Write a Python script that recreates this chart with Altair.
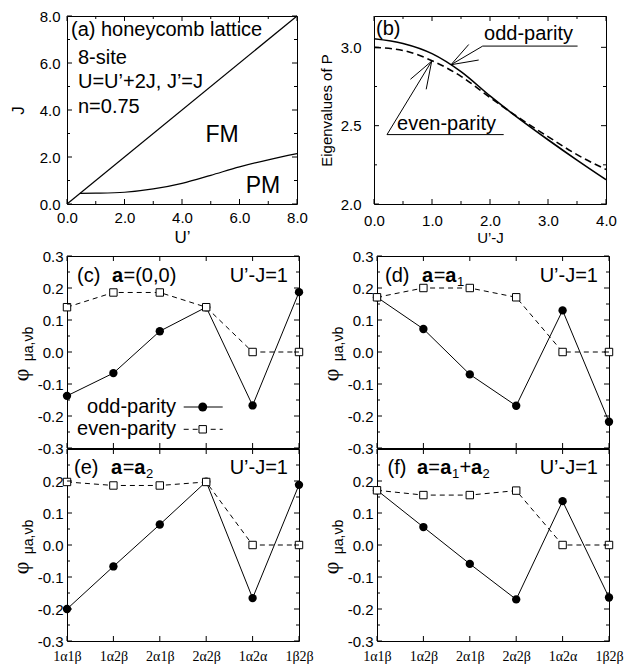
import altair as alt
import pandas as pd

SANS = "Liberation Sans"
SERIF = "Liberation Serif"

# ---------------- data ----------------
# (a) phase diagram
diag_u = [0.0, 8.0]
diag_j = [0.0, 8.0]
pm_u = [0.45, 1.0, 2.0, 3.0, 4.0, 5.0, 6.0, 7.0, 8.0]
pm_j = [0.45, 0.46, 0.50, 0.64, 0.88, 1.22, 1.58, 1.88, 2.14]

# (b) eigenvalues of P
b_x = [0.0, 0.5, 1.0, 1.5, 2.0, 2.5, 3.0, 3.5, 4.0]
odd_p = [3.055, 3.025, 2.96, 2.845, 2.69, 2.545, 2.41, 2.28, 2.155]
even_p = [3.0, 2.98, 2.915, 2.815, 2.68, 2.55, 2.43, 2.315, 2.22]

# (c)-(f) pair amplitudes
cats = ["1α1β", "1α2β", "2α1β", "2α2β", "1α2α", "1β2β"]
c_odd = [-0.137, -0.066, 0.065, 0.14, -0.167, 0.187]
c_even = [0.14, 0.186, 0.186, 0.14, 0.0, 0.0]
d_odd = [0.171, 0.072, -0.07, -0.168, 0.13, -0.218]
d_even = [0.171, 0.2, 0.2, 0.171, 0.0, 0.0]
e_odd = [-0.2, -0.067, 0.064, 0.198, -0.166, 0.188]
e_even = [0.197, 0.186, 0.186, 0.197, 0.0, 0.0]
f_odd = [0.171, 0.056, -0.059, -0.17, 0.137, -0.164]
f_even = [0.171, 0.156, 0.156, 0.17, 0.0, 0.0]

# tick values
a_major = [0, 2, 4, 6, 8]
a_minor = [1, 3, 5, 7]
b_xmajor = [0, 1, 2, 3, 4]
b_xminor = [0.5, 1.5, 2.5, 3.5]
b_ymajor = [2.0, 2.5, 3.0]
b_yminor = [2.25, 2.75]
phi_major = [-0.3, -0.2, -0.1, 0.0, 0.1, 0.2, 0.3]
phi_minor = [-0.25, -0.15, -0.05, 0.05, 0.15, 0.25]

# (b) annotation arrows (data coordinates)
seg_x = [1.874, 1.874, 1.328, 1.328, 0.224, 0.224, 0.995, 0.995]
seg_y = [3.008, 3.008, 2.889, 2.889, 2.443, 2.443, 2.912, 2.912]
seg_x2 = [3.51, 1.328, 1.633, 1.805, 2.236, 0.995, 0.628, 0.9]
seg_y2 = [3.008, 2.889, 3.018, 2.919, 2.443, 2.912, 2.796, 2.732]


# ---------------- helpers ----------------
def txt(s, x, y, size=20, align="left", baseline="alphabetic", weight="normal",
        angle=0, font=SANS):
    return alt.Chart(alt.Data(values=[{}])).mark_text(
        text=s, align=align, baseline=baseline, fontSize=size, fontWeight=weight,
        font=font, angle=angle, color="black"
    ).encode(x=alt.value(x), y=alt.value(y))


def xticks(vals, length, H, scale, axis, t="Q"):
    df = pd.DataFrame({"v": vals})
    base = alt.Chart(df).mark_rule(color="black", strokeWidth=1)
    xe = alt.X(f"v:{t}", scale=scale, axis=axis)
    return [base.encode(x=xe, y=alt.value(H), y2=alt.value(H - length)),
            base.encode(x=xe, y=alt.value(0), y2=alt.value(length))]


def yticks(vals, length, W, scale, axis):
    df = pd.DataFrame({"v": vals})
    base = alt.Chart(df).mark_rule(color="black", strokeWidth=1)
    ye = alt.Y("v:Q", scale=scale, axis=axis)
    return [base.encode(y=ye, x=alt.value(0), x2=alt.value(length)),
            base.encode(y=ye, x=alt.value(W), x2=alt.value(W - length))]


# ---------------- panel (a) ----------------
WA, HA = 230, 188
xs_a = alt.Scale(domain=[0, 8], nice=False, zero=False)
ys_a = alt.Scale(domain=[0, 8], nice=False, zero=False)
ax_a = alt.Axis(values=a_major, format=".1f", title="U’", labelPadding=6,
                titleFontSize=17, titlePadding=4)
ay_a = alt.Axis(values=a_major, format=".1f", title="J", labelPadding=7,
                titleFontSize=17, titlePadding=12)
df_diag = pd.DataFrame({"u": diag_u, "j": diag_j})
df_pm = pd.DataFrame({"u": pm_u, "j": pm_j})

a_diag = alt.Chart(df_diag).mark_line(color="black", strokeWidth=1.2).encode(
    x=alt.X("u:Q", scale=xs_a, axis=ax_a), y=alt.Y("j:Q", scale=ys_a, axis=ay_a))
a_pm = alt.Chart(df_pm).mark_line(color="black", strokeWidth=1.2, interpolate="monotone").encode(
    x=alt.X("u:Q", scale=xs_a, axis=ax_a), y=alt.Y("j:Q", scale=ys_a, axis=ay_a))

pa_layers = [a_diag, a_pm]
pa_layers += xticks(a_major, 5, HA, xs_a, ax_a) + xticks(a_minor, 3, HA, xs_a, ax_a)
pa_layers += yticks(a_major, 5, WA, ys_a, ay_a) + yticks(a_minor, 3, WA, ys_a, ay_a)
pa_layers += [
    txt("(a) honeycomb lattice", 4, 19.5),
    txt("8-site", 11, 47.5),
    txt("U=U’+2J, J’=J", 11, 72),
    txt("n=0.75", 11, 97),
    txt("FM", 155, 125.5, size=23, align="center"),
    txt("PM", 196, 177, size=23, align="center"),
]
pa = alt.layer(*pa_layers).properties(width=WA, height=HA)

# ---------------- panel (b) ----------------
WB, HB = 232, 188
xs_b = alt.Scale(domain=[0, 4], nice=False, zero=False)
ys_b = alt.Scale(domain=[2.0, 3.2], nice=False, zero=False)
ax_b = alt.Axis(values=b_xmajor, format=".1f", title="U’-J", labelPadding=9,
                titleFontSize=15, titlePadding=2)
ay_b = alt.Axis(values=b_ymajor, format=".1f", title="Eigenvalues of P", labelPadding=13,
                titleFontSize=15, titlePadding=6)
df_b = pd.DataFrame({"x": b_x, "odd": odd_p, "even": even_p})
df_seg = pd.DataFrame({"x": seg_x, "y": seg_y, "x2": seg_x2, "y2": seg_y2})

b_odd = alt.Chart(df_b).mark_line(color="black", strokeWidth=1.6, interpolate="monotone").encode(
    x=alt.X("x:Q", scale=xs_b, axis=ax_b), y=alt.Y("odd:Q", scale=ys_b, axis=ay_b))
b_even = alt.Chart(df_b).mark_line(color="black", strokeWidth=1.6, strokeDash=[7, 4],
                                   interpolate="monotone").encode(
    x=alt.X("x:Q", scale=xs_b, axis=ax_b), y=alt.Y("even:Q", scale=ys_b, axis=ay_b))
b_seg = alt.Chart(df_seg).mark_rule(color="black", strokeWidth=1).encode(
    x=alt.X("x:Q", scale=xs_b, axis=ax_b), y=alt.Y("y:Q", scale=ys_b, axis=ay_b),
    x2="x2:Q", y2="y2:Q")
b_lab = pd.DataFrame({"x": [1.897, 0.397], "y": [3.05, 2.474], "t": ["odd-parity", "even-parity"]})
b_txt = alt.Chart(b_lab).mark_text(align="left", baseline="alphabetic", fontSize=20, font=SANS,
                                   color="black").encode(
    x=alt.X("x:Q", scale=xs_b, axis=ax_b), y=alt.Y("y:Q", scale=ys_b, axis=ay_b), text="t:N")

pb_layers = [b_odd, b_even, b_seg, b_txt]
pb_layers += xticks(b_xmajor, 5, HB, xs_b, ax_b) + xticks(b_xminor, 3, HB, xs_b, ax_b)
pb_layers += yticks(b_ymajor, 5, WB, ys_b, ay_b) + yticks(b_yminor, 3, WB, ys_b, ay_b)
pb_layers += [txt("(b)", 2, 19)]
pb = alt.layer(*pb_layers).properties(width=WB, height=HB)


# ---------------- panels (c)-(f) ----------------
WC, HC = 232, 192


def cat_panel(odd, even, parts, show_x, yvals, top_base, legend=False):
    xs = alt.Scale(type="point", domain=cats, padding=0)
    ys = alt.Scale(domain=[-0.3, 0.3], nice=False, zero=False)
    df = pd.DataFrame({"cat": cats, "odd": odd, "even": even})
    if show_x:
        xaxis = alt.Axis(labelFont=SERIF, labelFontSize=14, labelAngle=0, labelPadding=8,
                         title=None)
    else:
        xaxis = alt.Axis(labels=False, title=None)
    yaxis = alt.Axis(values=yvals, title=None, labelPadding=4,
                     labelExpr="replace(format(datum.value, '.1f'), '\u2212', '-')")
    base = alt.Chart(df)
    X = alt.X("cat:N", scale=xs, axis=xaxis)
    l_even = base.mark_line(color="black", strokeWidth=1, strokeDash=[5, 4]).encode(
        x=X, y=alt.Y("even:Q", scale=ys, axis=yaxis))
    l_odd = base.mark_line(color="black", strokeWidth=1).encode(
        x=X, y=alt.Y("odd:Q", scale=ys, axis=yaxis))
    p_odd = base.mark_circle(size=70, color="black", opacity=1).encode(
        x=X, y=alt.Y("odd:Q", scale=ys, axis=yaxis))
    p_even = base.mark_point(shape="square", filled=True, fill="white", stroke="black",
                             strokeWidth=1, size=55, opacity=1).encode(
        x=X, y=alt.Y("even:Q", scale=ys, axis=yaxis))
    layers = [l_even, l_odd, p_odd, p_even]
    layers += xticks(cats, 5, HC, xs, xaxis, t="N")
    layers += yticks(phi_major, 5, WC, ys, yaxis) + yticks(phi_minor, 3, WC, ys, yaxis)
    for (s, x, w, size, dy) in parts:
        layers.append(txt(s, x, top_base + dy, size=size, weight=w))
    layers.append(txt("U’-J=1", 221, top_base, align="right"))
    # axis title phi_{mu a, nu b}
    layers.append(txt("φ", -46.5, 119, size=22, align="center", baseline="middle",
                      angle=270, font=SERIF))
    layers.append(txt("μa,νb", -38.5, 88, size=14, align="center", baseline="middle",
                      angle=270))
    if legend:
        layers += [
            txt("odd-parity", 109, 151, align="right", baseline="middle"),
            txt("even-parity", 109, 173.3, align="right", baseline="middle"),
            alt.Chart(alt.Data(values=[{}])).mark_rule(color="black", strokeWidth=1).encode(
                x=alt.value(116.7), x2=alt.value(155.7), y=alt.value(151)),
            alt.Chart(alt.Data(values=[{}])).mark_rule(color="black", strokeWidth=1,
                                                       strokeDash=[5, 4]).encode(
                x=alt.value(116.7), x2=alt.value(155.7), y=alt.value(173.3)),
            alt.Chart(alt.Data(values=[{}])).mark_circle(size=80, color="black", opacity=1).encode(
                x=alt.value(135.7), y=alt.value(151)),
            alt.Chart(alt.Data(values=[{}])).mark_point(shape="square", filled=True, fill="white",
                                                        stroke="black", strokeWidth=1, size=55,
                                                        opacity=1).encode(
                x=alt.value(135.7), y=alt.value(173.3)),
        ]
    return alt.layer(*layers).properties(width=WC, height=HC)


B, N = "bold", "normal"
parts_c = [("(c)", 10, N, 20, 0), ("a", 45, B, 20, 0), ("=(0,0)", 56.5, N, 20, 0)]
parts_d = [("(d)", 8, N, 20, 0), ("a", 45, B, 20, 0), ("=", 56.7, N, 20, 0),
           ("a", 68.3, B, 20, 0), ("1", 80, N, 13, 4)]
parts_e = [("(e)", 7, N, 20, 0), ("a", 44, B, 20, 0), ("=", 55.7, N, 20, 0),
           ("a", 67.3, B, 20, 0), ("2", 79, N, 13, 4)]
parts_f = [("(f)", 10.5, N, 20, 0), ("a", 40, B, 20, 0), ("=", 51.3, N, 20, 0),
           ("a", 63.3, B, 20, 0), ("1", 75, N, 13, 4), ("+", 82.5, N, 20, 0),
           ("a", 94, B, 20, 0), ("2", 105.5, N, 13, 4)]

yv_top = phi_major
yv_bot = [-0.3, -0.2, -0.1, 0.0, 0.1, 0.2]

pc = cat_panel(c_odd, c_even, parts_c, False, yv_top, 26, legend=True)
pd_ = cat_panel(d_odd, d_even, parts_d, False, yv_top, 26)
pe = cat_panel(e_odd, e_even, parts_e, True, yv_bot, 24.5)
pf = cat_panel(f_odd, f_even, parts_f, True, yv_bot, 24.5)

row1 = alt.hconcat(pa, pb, spacing=77, bounds="flush")
grid = alt.concat(pc, pd_, pe, pf, columns=2, spacing={"row": 1, "column": 78},
                  bounds="flush")

chart = alt.vconcat(row1, grid, spacing=2).properties(
    padding={"left": 0, "top": 0, "right": 5, "bottom": 0}
).configure_view(stroke="black", strokeWidth=1).configure_axis(
    labelFont=SANS, titleFont=SANS, labelColor="black", titleColor="black",
    grid=False, domain=False, ticks=False, labelFlush=False, labelOverlap=False,
    labelFontSize=15, titleFontWeight="normal"
)

chart.save("out.html", embed_options={"renderer": "svg", "actions": False})
